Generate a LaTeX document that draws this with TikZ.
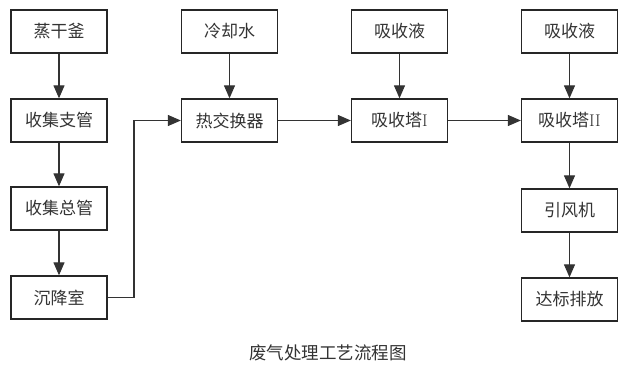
\documentclass[tikz,border=0pt]{standalone}
\usepackage{fontspec}
\newfontfamily\cjk{Noto Sans CJK SC}
\usetikzlibrary{arrows.meta}
\begin{document}
\begin{tikzpicture}[x=1pt,y=-1pt,
  proc/.style={draw=black!85,line width=1.3pt,minimum width=96pt,minimum height=43pt,inner sep=0pt,font=\cjk\fontsize{17}{17}\selectfont,text=black!80},
  flow/.style={draw=black!80,line width=1.1pt,-{Triangle[length=13pt,width=11pt]}}]
\useasboundingbox (0,0) rectangle (640,367);
\node[proc] (zg) at (59,31.5) {蒸干釜};
\node[proc] (zhg) at (59,120.5) {收集支管};
\node[proc] (zog) at (59,208.5) {收集总管};
\node[proc] (cj) at (59,297.5) {沉降室};
\node[proc] (lq) at (229.5,31.5) {冷却水};
\node[proc] (rj) at (229.5,120.5) {热交换器};
\node[proc] (xy1) at (399.5,31.5) {吸收液};
\node[proc] (xt1) at (399.5,120.5) {吸收塔{\rmfamily I}};
\node[proc] (xy2) at (569.5,31.5) {吸收液};
\node[proc] (xt2) at (569.5,120.5) {吸收塔{\rmfamily II}};
\node[proc] (yf) at (569.5,210.5) {引风机};
\node[proc] (db) at (569.5,299.5) {达标排放};
\node[font=\cjk\fontsize{17.5}{17.5}\selectfont,text=black!80] (cap) at (328,353) {废气处理工艺流程图};
\coordinate (c1) at (134,297.5);
\coordinate (c2) at (134,120.5);
\draw[flow] (zg) -- (zhg);
\draw[flow] (zhg) -- (zog);
\draw[flow] (zog) -- (cj);
\draw[flow] (cj.east) -- (c1) -- (c2) -- (rj.west);
\draw[flow] (lq) -- (rj);
\draw[flow] (rj) -- (xt1);
\draw[flow] (xy1) -- (xt1);
\draw[flow] (xt1) -- (xt2);
\draw[flow] (xy2) -- (xt2);
\draw[flow] (xt2) -- (yf);
\draw[flow] (yf) -- (db);
\end{tikzpicture}
\end{document}
